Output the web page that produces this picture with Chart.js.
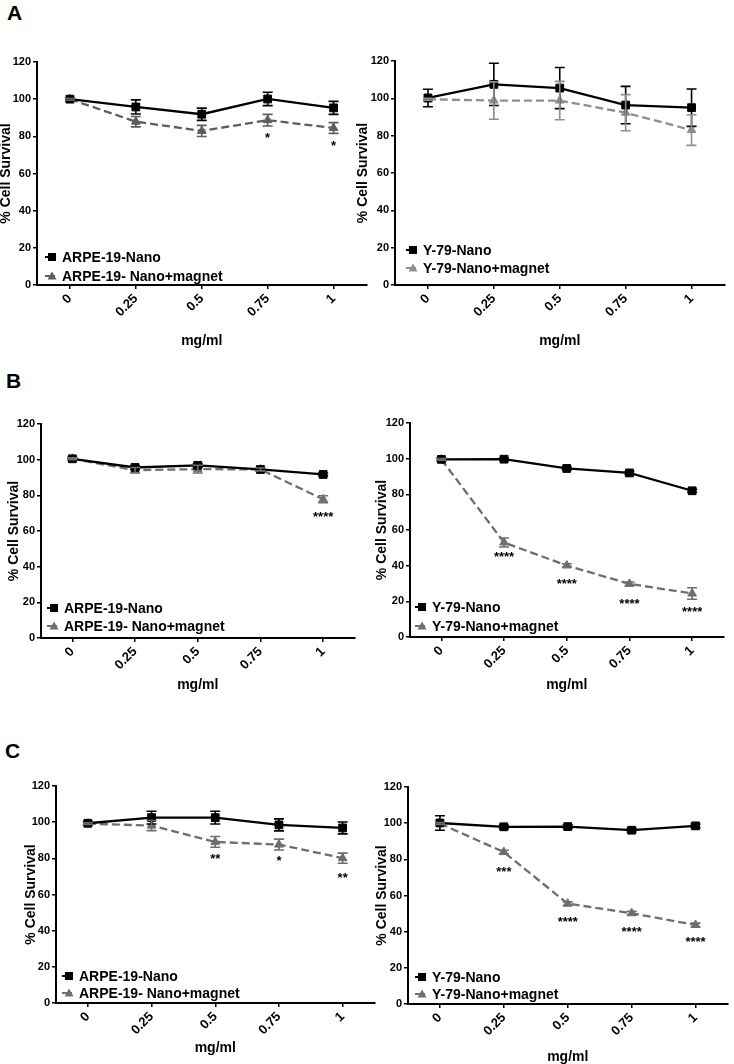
<!DOCTYPE html>
<html><head><meta charset="utf-8">
<script src="https://cdn.jsdelivr.net/npm/chart.js@4.4.1/dist/chart.umd.min.js"></script>
<style>
html,body{margin:0;padding:0;background:#fff;width:734px;height:1064px;overflow:hidden;position:relative;font-family:"Liberation Sans",Arial,sans-serif}
canvas{position:absolute}
.lab{position:absolute;font-weight:bold;font-size:21px;line-height:1;color:#000}
</style></head><body>
<div class="lab" style="left:7px;top:2px">A</div>
<div class="lab" style="left:6px;top:370px">B</div>
<div class="lab" style="left:5px;top:740px">C</div>
<script>
// ---- categories ----
const doses = ['0', '0.25', '0.5', '0.75', '1'];

// ---- A (left): ARPE-19 ----
const aLeftNames = ['ARPE-19-Nano', 'ARPE-19- Nano+magnet'];
const aLeftNano = [100, 95.8, 91.9, 100.1, 95.3];
const aLeftNanoErr = [0.6, 3.8, 3.3, 3.6, 3.5];
const aLeftMag = [100, 87.9, 82.9, 88.7, 84.5];
const aLeftMagErr = [0.5, 2.8, 3.0, 3.1, 2.9];
const aLeftStars = ['', '', '', '*', '*'];
const aLeftStarY = [null, null, null, 81, 76.5];

// ---- A (right): Y-79 ----
const aRightNames = ['Y-79-Nano', 'Y-79-Nano+magnet'];
const aRightNano = [100.2, 107.5, 105.5, 96.4, 95];
const aRightNanoErr = [4.7, 11.3, 11.0, 10.0, 10.0];
const aRightMag = [99.5, 98.8, 98.8, 92.3, 83];
const aRightMagErr = [0.5, 10.0, 10.3, 9.7, 8.2];
const aRightStars = ['', '', '', '', ''];
const aRightStarY = [null, null, null, null, null];

// ---- B (left): ARPE-19 ----
const bLeftNames = ['ARPE-19-Nano', 'ARPE-19- Nano+magnet'];
const bLeftNano = [100.5, 95.6, 96.8, 94.5, 91.7];
const bLeftNanoErr = [0.8, 1.0, 1.0, 0.8, 0.8];
const bLeftMag = [100.5, 94.1, 94.7, 94.5, 77.8];
const bLeftMagErr = [0.5, 1.5, 2.2, 0.8, 2.0];
const bLeftStars = ['', '', '', '', '****'];
const bLeftStarY = [null, null, null, null, 70];

// ---- B (right): Y-79 ----
const bRightNames = ['Y-79-Nano', 'Y-79-Nano+magnet'];
const bRightNano = [99.6, 99.7, 94.5, 92, 82];
const bRightNanoErr = [0.8, 0.8, 0.8, 0.8, 0.8];
const bRightMag = [99.6, 53, 40.1, 29.8, 24.4];
const bRightMagErr = [0.5, 2.5, 1.0, 1.0, 3.2];
const bRightStars = ['', '****', '****', '****', '****'];
const bRightStarY = [null, 46.9, 31.5, 20.6, 16];

// ---- C (left): ARPE-19 ----
const cLeftNames = ['ARPE-19-Nano', 'ARPE-19- Nano+magnet'];
const cLeftNano = [99.4, 102.5, 102.5, 98.5, 96.8];
const cLeftNanoErr = [1.0, 3.5, 3.5, 3.3, 3.3];
const cLeftMag = [99.2, 98.1, 89.1, 87.6, 80.1];
const cLeftMagErr = [0.5, 2.8, 3.0, 3.0, 2.8];
const cLeftStars = ['', '', '**', '*', '**'];
const cLeftStarY = [null, null, 81.8, 80.5, 71.3];

// ---- C (right): Y-79 ----
const cRightNames = ['Y-79-Nano', 'Y-79-Nano+magnet'];
const cRightNano = [100.1, 98, 98.1, 96.1, 98.5];
const cRightNanoErr = [4.0, 1.0, 1.0, 1.0, 1.0];
const cRightMag = [99.8, 84, 55.5, 50.2, 43.7];
const cRightMagErr = [0.5, 1.0, 1.0, 1.0, 1.0];
const cRightStars = ['', '***', '****', '****', '****'];
const cRightStarY = [null, 74.8, 47.4, 41.7, 36.4];

// ---- y ticks ----
const yMin = 0, yMax = 120, yStep = 20;

const FONT = '"Liberation Sans", Arial, sans-serif';
Chart.defaults.font.family = FONT;
Chart.defaults.color = '#000';

const overlay = {
  id: 'overlay',
  afterDatasetsDraw(chart, args, opts) {
    const ctx = chart.ctx;
    const xs = chart.scales.x, ys = chart.scales.y;
    ctx.save();
    // error bars
    chart.data.datasets.forEach((ds) => {
      if (!ds.err) return;
      ctx.strokeStyle = ds.borderColor;
      ctx.lineWidth = 1.6;
      ctx.setLineDash([]);
      ds.data.forEach((v, i) => {
        const e = ds.err[i];
        const x = xs.getPixelForValue(i);
        const y1 = ys.getPixelForValue(v + e), y2 = ys.getPixelForValue(v - e);
        ctx.beginPath();
        ctx.moveTo(x, y1); ctx.lineTo(x, y2);
        ctx.moveTo(x - 5, y1); ctx.lineTo(x + 5, y1);
        ctx.moveTo(x - 5, y2); ctx.lineTo(x + 5, y2);
        ctx.stroke();
      });
    });
    // significance stars
    ctx.fillStyle = '#000';
    ctx.font = 'bold 13px ' + FONT;
    ctx.textAlign = 'center';
    ctx.textBaseline = 'alphabetic';
    opts.stars.forEach((s, i) => {
      if (!s) return;
      ctx.fillText(s, xs.getPixelForValue(i), ys.getPixelForValue(opts.starY[i]) + 7.5);
    });
    // legend
    const ca = chart.chartArea;
    const tx = ca.left + opts.legDx;
    ctx.font = 'bold 14px ' + FONT;
    ctx.textAlign = 'left';
    ctx.textBaseline = 'middle';
    chart.data.datasets.forEach((ds, k) => {
      const y = ca.bottom - opts.legUp[k];
      ctx.strokeStyle = ds.borderColor;
      ctx.fillStyle = ds.borderColor;
      ctx.lineWidth = 2;
      ctx.beginPath();
      ctx.moveTo(tx - 17, y); ctx.lineTo(tx - 7, y);
      ctx.stroke();
      ctx.beginPath();
      if (ds.pointStyle === 'rect') {
        ctx.rect(tx - 14, y - 4, 8, 8);
      } else {
        ctx.moveTo(tx - 10, y - 4.5); ctx.lineTo(tx - 5.5, y + 3.5); ctx.lineTo(tx - 14.5, y + 3.5); ctx.closePath();
      }
      ctx.fill();
      ctx.fillStyle = '#000';
      ctx.fillText(ds.label, tx, y + 1);
    });
    ctx.restore();
  }
};

const PADTOP = 10;

function makePanel(L, names, nano, nanoErr, mag, magErr, stars, starY) {
  const c = document.createElement('canvas');
  const left = Math.round(L.titleX - 8.4);
  const top = L.areaTop - PADTOP;
  const bottom = Math.round(L.mgY + 9);
  const width = L.areaRight - left;
  const height = bottom - top;
  c.width = width; c.height = height;
  c.style.left = left + 'px'; c.style.top = top + 'px';
  c.style.width = width + 'px'; c.style.height = height + 'px';
  document.body.appendChild(c);
  const yW = L.axisX - left;
  const xH = bottom - L.areaBottom;
  new Chart(c, {
    type: 'line',
    data: {
      labels: doses,
      datasets: [
        { label: names[0], data: nano, err: nanoErr, borderColor: '#000', backgroundColor: '#000',
          pointStyle: 'rect', pointRadius: 5.5, pointBorderWidth: 1, borderWidth: 2.3, tension: 0 },
        { label: names[1], data: mag, err: magErr, borderColor: L.gray, backgroundColor: L.gray,
          pointStyle: 'triangle', pointRadius: 5, pointBorderWidth: 1, borderWidth: 2.3, borderDash: [8, 4], tension: 0 }
      ]
    },
    options: {
      responsive: false, animation: false, devicePixelRatio: 1,
      layout: { padding: { top: PADTOP, left: 0, right: 0, bottom: 0 } },
      plugins: {
        legend: { display: false }, tooltip: { enabled: false },
        overlay: { stars: stars, starY: starY, legDx: L.legDx, legUp: L.legUp }
      },
      scales: {
        x: {
          type: 'category', offset: true,
          afterFit: s => { s.height = xH; },
          grid: { offset: false, drawOnChartArea: false, drawTicks: true, tickLength: 4, color: '#000', lineWidth: 1.5 },
          border: { display: true, color: '#000', width: 2 },
          ticks: { autoSkip: false, minRotation: 45, maxRotation: 45, color: '#000', font: { size: 13, weight: 'bold' }, padding: 2 },
          title: { display: true, text: 'mg/ml', color: '#000', font: { size: 14, weight: 'bold' }, padding: { top: 0, bottom: 0 } }
        },
        y: {
          min: yMin, max: yMax,
          afterFit: s => { s.width = yW; },
          ticks: { stepSize: yStep, color: '#000', font: { size: 11, weight: 'bold' }, padding: 2 },
          grid: { drawOnChartArea: false, drawTicks: true, tickLength: 4, color: '#000', lineWidth: 1.5 },
          border: { display: true, color: '#000', width: 2 },
          title: { display: true, text: '% Cell Survival', color: '#000', font: { size: 14, weight: 'bold' }, padding: { top: 0, bottom: 0 } }
        }
      }
    },
    plugins: [overlay]
  });
}

makePanel({ titleX: 6, axisX: 37, areaTop: 62, areaBottom: 285, areaRight: 373, mgY: 341, gray: '#5e5e5e', legDx: 25, legUp: [28, 9] },
  aLeftNames, aLeftNano, aLeftNanoErr, aLeftMag, aLeftMagErr, aLeftStars, aLeftStarY);
makePanel({ titleX: 363, axisX: 395, areaTop: 61, areaBottom: 285, areaRight: 731, mgY: 341, gray: '#8e8e8e', legDx: 28, legUp: [35, 17] },
  aRightNames, aRightNano, aRightNanoErr, aRightMag, aRightMagErr, aRightStars, aRightStarY);
makePanel({ titleX: 14, axisX: 41, areaTop: 424, areaBottom: 638, areaRight: 361, mgY: 685, gray: '#707070', legDx: 23, legUp: [30, 12] },
  bLeftNames, bLeftNano, bLeftNanoErr, bLeftMag, bLeftMagErr, bLeftStars, bLeftStarY);
makePanel({ titleX: 382, axisX: 410, areaTop: 423, areaBottom: 637, areaRight: 730, mgY: 685, gray: '#6e6e6e', legDx: 22, legUp: [30, 11] },
  bRightNames, bRightNano, bRightNanoErr, bRightMag, bRightMagErr, bRightStars, bRightStarY);
makePanel({ titleX: 31, axisX: 56, areaTop: 786, areaBottom: 1003, areaRight: 381, mgY: 1048, gray: '#6e6e6e', legDx: 23, legUp: [27, 10] },
  cLeftNames, cLeftNano, cLeftNanoErr, cLeftMag, cLeftMagErr, cLeftStars, cLeftStarY);
makePanel({ titleX: 382, axisX: 408, areaTop: 787, areaBottom: 1004, areaRight: 734, mgY: 1057, gray: '#6e6e6e', legDx: 24, legUp: [27, 10] },
  cRightNames, cRightNano, cRightNanoErr, cRightMag, cRightMagErr, cRightStars, cRightStarY);
</script>
</body></html>
